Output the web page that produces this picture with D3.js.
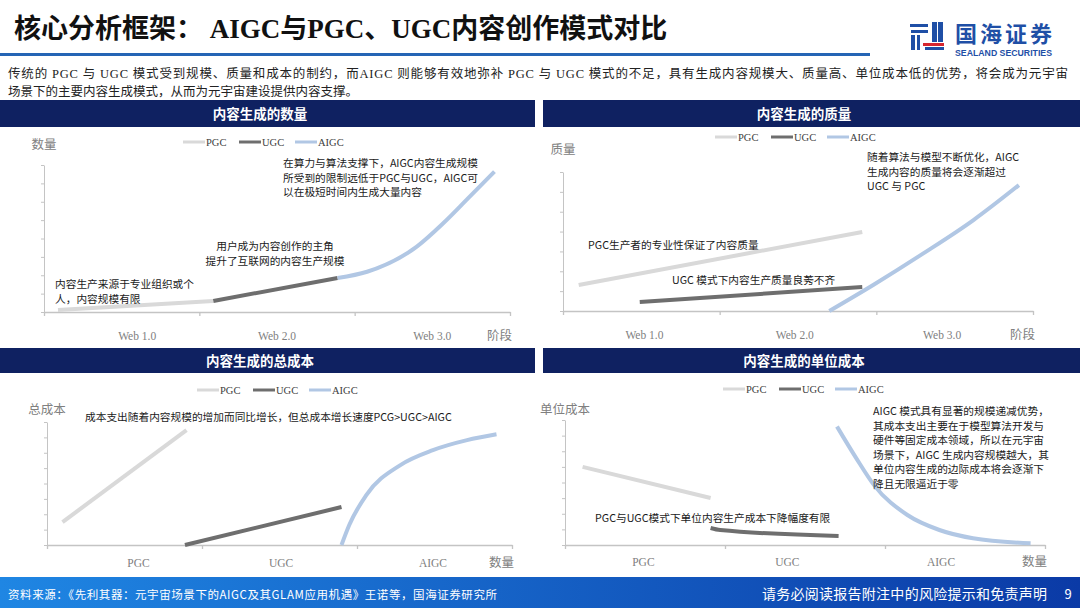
<!DOCTYPE html>
<html>
<head>
<meta charset="utf-8">
<script src="https://cdn.jsdelivr.net/npm/d3@7"></script>
<style>
  html, body { margin: 0; padding: 0; background: #fff; }
  svg { display: block; }
  .cjk { font-family: "Noto Sans CJK SC", sans-serif; }
  .serif { font-family: "Liberation Serif", "Noto Sans CJK SC", serif; }
</style>
</head>
<body>
<div id="chart"></div>
<script>
// ---- data ----
const stageLabels = ["Web 1.0", "Web 2.0", "Web 3.0"];
const modeLabels = ["PGC", "UGC", "AIGC"];
const legendNames = ["PGC", "UGC", "AIGC"];

// x: 0-3 along the stage axis, y: in y-tick units
const qtyPGC = [[0.09, 0.11], [1.09, 0.6]];
const qtyUGC = [[1.09, 0.6], [1.89, 1.85]];
const qtyAIGC = [[1.89, 1.85], [2.08, 2.19], [2.4, 3.56], [2.57, 4.83], [2.72, 6.1], [2.9, 7.64]];

const qualPGC = [[0.1, 1.31], [1.91, 3.98]];
const qualUGC = [[0.49, 0.45], [1.91, 1.21]];
const qualAIGC = [[1.7, 0], [1.98, 1.31], [2.3, 2.9], [2.62, 4.58], [2.91, 6.34]];

const costPGC = [[0.1, 1.49], [0.9, 7.47]];
const costUGC = [[0.89, 0], [1.9, 2.47]];
const costAIGC = [[1.9, 0], [1.95, 1.3], [2.06, 3.25], [2.28, 5.2], [2.49, 6.17], [2.71, 6.82], [2.9, 7.2]];

const unitPGC = [[0.11, 5.0], [0.91, 3.01]];
const unitUGC = [[0.91, 1.09], [0.97, 0.96], [1.71, 0.58]];
const unitAIGC = [[1.7, 7.58], [1.82, 5.56], [1.93, 3.85], [2.14, 1.92], [2.34, 0.96], [2.55, 0.43], [2.91, 0.11]];

const width = 1080;
const height = 608;

const navy = "#0f2161";
const seriesColors = ["#d9d9d9", "#6e6e6e", "#b1c7e4"];
const axisColor = "#c4c4c4";
const labelColor = "#808080";

const svg = d3.select("#chart").append("svg")
    .attr("width", width)
    .attr("height", height)
    .attr("viewBox", [0, 0, width, height]);

const defs = svg.append("defs");
const grad = defs.append("linearGradient").attr("id", "footGrad");
grad.append("stop").attr("offset", "0%").attr("stop-color", "#1f86e3");
grad.append("stop").attr("offset", "100%").attr("stop-color", "#0b3aa6");

// ---- header ----
svg.append("text")
    .attr("class", "serif")
    .attr("x", 14)
    .attr("y", 38)
    .attr("font-size", 27)
    .attr("font-weight", "bold")
    .attr("fill", "#111")
    .text("核心分析框架： AIGC与PGC、UGC内容创作模式对比");

svg.append("rect")
    .attr("x", 0).attr("y", 53)
    .attr("width", 870).attr("height", 3)
    .attr("fill", "#2565b5");

// logo
const logo = svg.append("g");
const blue = "#1f4fa6";
[[910, 24, 18, 3], [911, 30, 17, 3], [911, 35, 4, 15], [917, 35, 3, 15],
 [932, 22, 5, 20], [938, 22, 5, 20], [925, 47, 19, 3]].forEach(r => {
  logo.append("rect").attr("x", r[0]).attr("y", r[1]).attr("width", r[2]).attr("height", r[3]).attr("fill", blue);
});
logo.append("rect").attr("x", 923).attr("y", 43).attr("width", 21).attr("height", 3).attr("fill", "#d7262e");
logo.append("text")
    .attr("class", "cjk")
    .attr("x", 955).attr("y", 42)
    .attr("font-size", 22).attr("font-weight", "bold")
    .attr("fill", blue)
    .attr("textLength", 97)
    .text("国海证券");
logo.append("text")
    .attr("font-family", "Liberation Sans, sans-serif")
    .attr("x", 955).attr("y", 56)
    .attr("font-size", 8.5).attr("font-weight", "bold")
    .attr("fill", blue)
    .attr("textLength", 97)
    .attr("lengthAdjust", "spacingAndGlyphs")
    .text("SEALAND SECURITIES");

// intro
const intro = [
  "传统的 PGC 与 UGC 模式受到规模、质量和成本的制约，而AIGC 则能够有效地弥补 PGC 与 UGC 模式的不足，具有生成内容规模大、质量高、单位成本低的优势，将会成为元宇宙",
  "场景下的主要内容生成模式，从而为元宇宙建设提供内容支撑。"
];
svg.selectAll("text.intro")
    .data(intro)
    .join("text")
    .attr("class", "intro serif")
    .attr("x", 8)
    .attr("y", (d, i) => 78 + i * 18)
    .attr("font-size", 12.5)
    .attr("fill", "#222")
    .attr("textLength", (d, i) => i === 0 ? 1060 : null)
    .text(d => d);

// ---- panels ----
const panels = [
  {
    title: "内容生成的数量", bar: [0, 100, 535, 27], titleX: 260,
    x0: 44, x1: 510, yTop: 165, yBot: 312, yMax: 8,
    yLabel: "数量", yLabelY: 149, endLabel: "阶段",
    cats: stageLabels, catAt: [0.6, 1.5, 2.5], catY: 340,
    legendX: 183, legendY: 142,
    series: [qtyPGC, qtyUGC, qtyAIGC],
    notes: [
      { x: 283, y: 167, anchor: "start", lines: ["在算力与算法支撑下，AIGC内容生成规模", "所受到的限制远低于PGC与UGC，AIGC可", "以在极短时间内生成大量内容"] },
      { x: 275, y: 250, anchor: "middle", lines: ["用户成为内容创作的主角", "提升了互联网的内容生产规模"] },
      { x: 55, y: 288, anchor: "start", lines: ["内容生产来源于专业组织或个", "人，内容规模有限"] }
    ]
  },
  {
    title: "内容生成的质量", bar: [543, 100, 537, 27], titleX: 804,
    x0: 563, x1: 1033, yTop: 172, yBot: 311, yMax: 7,
    yLabel: "质量", yLabelY: 154, endLabel: "阶段",
    cats: stageLabels, catAt: [0.52, 1.48, 2.42], catY: 339,
    legendX: 715, legendY: 137,
    series: [qualPGC, qualUGC, qualAIGC],
    notes: [
      { x: 867, y: 161, anchor: "start", lines: ["随着算法与模型不断优化，AIGC", "生成内容的质量将会逐渐超过", "UGC 与 PGC"] },
      { x: 588, y: 249, anchor: "start", lines: ["PGC生产者的专业性保证了内容质量"] },
      { x: 672, y: 284, anchor: "start", lines: ["UGC 模式下内容生产质量良莠不齐"] }
    ]
  },
  {
    title: "内容生成的总成本", bar: [0, 348, 535, 25], titleX: 260,
    x0: 47, x1: 512, yTop: 422, yBot: 545, yMax: 8,
    yLabel: "总成本", yLabelY: 414, endLabel: "数量",
    cats: modeLabels, catAt: [0.59, 1.51, 2.49], catY: 567,
    legendX: 197, legendY: 390,
    series: [costPGC, costUGC, costAIGC],
    notes: [
      { x: 85, y: 421, anchor: "start", lines: ["成本支出随着内容规模的增加而同比增长，但总成本增长速度PCG>UGC>AIGC"] }
    ]
  },
  {
    title: "内容生成的单位成本", bar: [543, 348, 537, 25], titleX: 804,
    x0: 565, x1: 1045, yTop: 420, yBot: 545, yMax: 8,
    yLabel: "单位成本", yLabelY: 414, endLabel: "数量",
    cats: modeLabels, catAt: [0.49, 1.39, 2.35], catY: 566,
    legendX: 723, legendY: 389,
    series: [unitPGC, unitUGC, unitAIGC],
    notes: [
      { x: 873, y: 415, anchor: "start", lines: ["AIGC 模式具有显著的规模递减优势，", "其成本支出主要在于模型算法开发与", "硬件等固定成本领域，所以在元宇宙", "场景下，AIGC 生成内容规模越大，其", "单位内容生成的边际成本将会逐渐下", "降且无限逼近于零"] },
      { x: 595, y: 522, anchor: "start", lines: ["PGC与UGC模式下单位内容生产成本下降幅度有限"] }
    ]
  }
];

panels.forEach(p => {
  const g = svg.append("g");

  const x = d3.scaleLinear().domain([0, 3]).range([p.x0, p.x1]);
  const y = d3.scaleLinear().domain([0, p.yMax]).range([p.yBot, p.yTop]);

  // title bar
  g.append("rect")
      .attr("x", p.bar[0]).attr("y", p.bar[1])
      .attr("width", p.bar[2]).attr("height", p.bar[3])
      .attr("fill", navy);
  g.append("text")
      .attr("class", "cjk")
      .attr("x", p.titleX)
      .attr("y", p.bar[1] + p.bar[3] / 2 + 5)
      .attr("text-anchor", "middle")
      .attr("font-size", 13.5)
      .attr("font-weight", "bold")
      .attr("fill", "#fff")
      .text(p.title);

  // axes
  const yAxis = d3.axisLeft(y).ticks(p.yMax).tickSize(3).tickSizeOuter(0).tickFormat("");
  const xAxis = d3.axisBottom(x).tickValues([0, 1, 2, 3]).tickSize(4).tickSizeOuter(0).tickFormat("");

  g.append("g")
      .attr("transform", `translate(${p.x0},0)`)
      .call(yAxis)
      .call(a => a.selectAll("path, line").attr("stroke", axisColor));
  g.append("g")
      .attr("transform", `translate(0,${p.yBot})`)
      .call(xAxis)
      .call(a => a.selectAll("path, line").attr("stroke", axisColor).attr("stroke-width", 1.3));

  g.append("text")
      .attr("class", "cjk")
      .attr("x", p.x0)
      .attr("y", p.yLabelY)
      .attr("text-anchor", "middle")
      .attr("font-size", 12.5)
      .attr("fill", labelColor)
      .text(p.yLabel);

  g.append("text")
      .attr("class", "cjk")
      .attr("x", p.x1 + 2)
      .attr("y", p.catY)
      .attr("text-anchor", "end")
      .attr("font-size", 12.5)
      .attr("fill", labelColor)
      .text(p.endLabel);

  g.selectAll("text.cat")
      .data(p.cats)
      .join("text")
      .attr("class", "cat serif")
      .attr("x", (d, i) => x(p.catAt[i]))
      .attr("y", p.catY)
      .attr("text-anchor", "middle")
      .attr("font-size", 11.5)
      .attr("fill", labelColor)
      .text(d => d);

  // curves
  const line = d3.line()
      .x(d => x(d[0]))
      .y(d => y(d[1]))
      .curve(d3.curveMonotoneX);

  p.series.forEach((s, i) => {
    g.append("path")
        .datum(s)
        .attr("d", line)
        .attr("fill", "none")
        .attr("stroke", seriesColors[i])
        .attr("stroke-width", 4);
  });

  // legend
  const leg = g.selectAll("g.leg")
      .data(legendNames)
      .join("g")
      .attr("class", "leg")
      .attr("transform", (d, i) => `translate(${p.legendX + i * 56},${p.legendY})`);
  leg.append("line")
      .attr("x1", 0).attr("x2", 22)
      .attr("stroke", (d, i) => seriesColors[i])
      .attr("stroke-width", 3);
  leg.append("text")
      .attr("class", "serif")
      .attr("x", 23)
      .attr("y", 4)
      .attr("font-size", 10.5)
      .attr("fill", "#404040")
      .text(d => d);

  // notes
  p.notes.forEach(n => {
    g.append("text")
        .attr("class", "cjk")
        .attr("x", n.x)
        .attr("y", n.y)
        .attr("text-anchor", n.anchor)
        .attr("font-size", 10.7)
        .attr("fill", "#1a1a1a")
        .selectAll("tspan")
        .data(n.lines)
        .join("tspan")
        .attr("x", n.x)
        .attr("dy", (d, i) => i === 0 ? 0 : 14.5)
        .text(d => d);
  });
});

// ---- footer ----
svg.append("rect")
    .attr("x", 0).attr("y", 577)
    .attr("width", width).attr("height", height - 577)
    .attr("fill", "url(#footGrad)");

svg.append("text")
    .attr("class", "cjk")
    .attr("x", 8).attr("y", 599)
    .attr("font-size", 11.5)
    .attr("fill", "#fff")
    .attr("textLength", 489)
    .text("资料来源：《先利其器：元宇宙场景下的AIGC及其GLAM应用机遇》王诺等，国海证券研究所");

svg.append("text")
    .attr("class", "cjk")
    .attr("x", 762).attr("y", 599)
    .attr("font-size", 14)
    .attr("fill", "#fff")
    .attr("textLength", 285)
    .text("请务必阅读报告附注中的风险提示和免责声明");

svg.append("text")
    .attr("class", "cjk")
    .attr("x", 1068).attr("y", 599)
    .attr("text-anchor", "middle")
    .attr("font-size", 13)
    .attr("fill", "#fff")
    .text("9");
</script>
</body>
</html>
